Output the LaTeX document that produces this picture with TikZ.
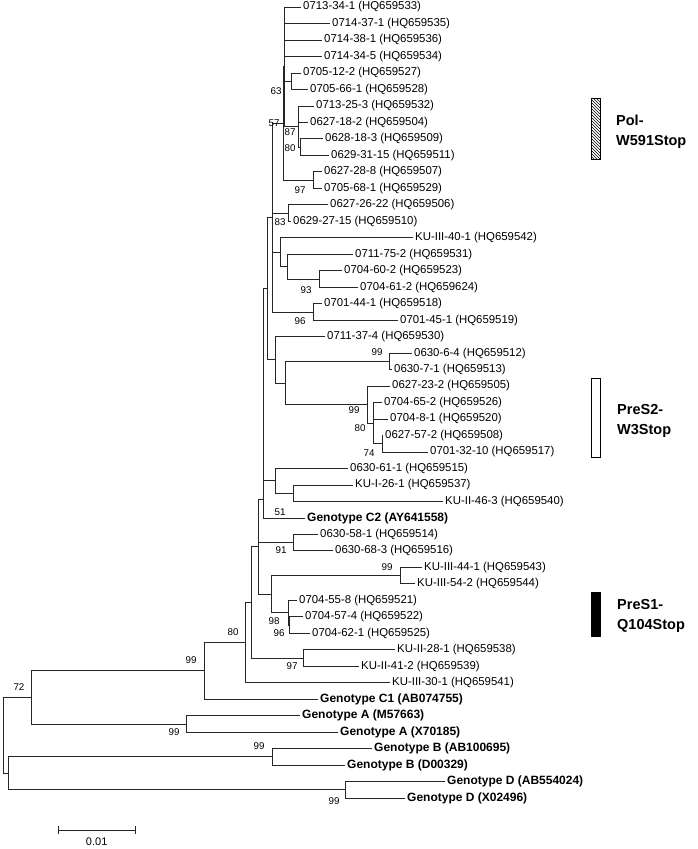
\documentclass[tikz,border=0pt]{standalone}
\usepackage{fontspec}
\setmainfont{Liberation Sans}
\usetikzlibrary{patterns}
\begin{document}
\begin{tikzpicture}[x=1pt,y=-1pt,
  edge/.style={draw=black!85, line width=0.8pt},
  leaf/.style={anchor=west, inner sep=2pt, font=\fontsize{11.4}{13}\selectfont},
  gleaf/.style={leaf, font=\bfseries\fontsize{12}{13}\selectfont},
  boot/.style={inner sep=0pt, font=\fontsize{9.8}{11}\selectfont},
  tag/.style={anchor=west, align=left, inner sep=0pt, font=\bfseries\fontsize{14.5}{20}\selectfont},
  bar/.style={draw=black, line width=0.8pt, minimum width=9pt, inner sep=0pt}]
\useasboundingbox (0,0) rectangle (697,849);
% leaves
\node[leaf] (l1) at (301,7.0) {0713-34-1 (HQ659533)};
\node[leaf] (l2) at (330,23.5) {0714-37-1 (HQ659535)};
\node[leaf] (l3) at (322,40.0) {0714-38-1 (HQ659536)};
\node[leaf] (l4) at (322,56.4) {0714-34-5 (HQ659534)};
\node[leaf] (l5) at (301,72.9) {0705-12-2 (HQ659527)};
\node[leaf] (l6) at (308,89.4) {0705-66-1 (HQ659528)};
\node[leaf] (l7) at (314,105.9) {0713-25-3 (HQ659532)};
\node[leaf] (l8) at (308,122.4) {0627-18-2 (HQ659504)};
\node[leaf] (l9) at (323,138.8) {0628-18-3 (HQ659509)};
\node[leaf] (l10) at (329,155.3) {0629-31-15 (HQ659511)};
\node[leaf] (l11) at (322,171.8) {0627-28-8 (HQ659507)};
\node[leaf] (l12) at (322,188.3) {0705-68-1 (HQ659529)};
\node[leaf] (l13) at (328,204.8) {0627-26-22 (HQ659506)};
\node[leaf] (l14) at (291,221.2) {0629-27-15 (HQ659510)};
\node[leaf] (l15) at (413,237.7) {KU-III-40-1 (HQ659542)};
\node[leaf] (l16) at (353,254.2) {0711-75-2 (HQ659531)};
\node[leaf] (l17) at (342,270.7) {0704-60-2 (HQ659523)};
\node[leaf] (l18) at (358,287.2) {0704-61-2 (HQ659624)};
\node[leaf] (l19) at (322,303.6) {0701-44-1 (HQ659518)};
\node[leaf] (l20) at (398,320.1) {0701-45-1 (HQ659519)};
\node[leaf] (l21) at (325,336.6) {0711-37-4 (HQ659530)};
\node[leaf] (l22) at (412,353.1) {0630-6-4 (HQ659512)};
\node[leaf] (l23) at (392,369.6) {0630-7-1 (HQ659513)};
\node[leaf] (l24) at (390,386.0) {0627-23-2 (HQ659505)};
\node[leaf] (l25) at (382,402.5) {0704-65-2 (HQ659526)};
\node[leaf] (l26) at (388,419.0) {0704-8-1 (HQ659520)};
\node[leaf] (l27) at (383,435.5) {0627-57-2 (HQ659508)};
\node[leaf] (l28) at (428,452.0) {0701-32-10 (HQ659517)};
\node[leaf] (l29) at (348,468.4) {0630-61-1 (HQ659515)};
\node[leaf] (l30) at (353,484.9) {KU-I-26-1 (HQ659537)};
\node[leaf] (l31) at (443,501.4) {KU-II-46-3 (HQ659540)};
\node[gleaf] (l32) at (305,517.9) {Genotype C2 (AY641558)};
\node[leaf] (l33) at (318,534.4) {0630-58-1 (HQ659514)};
\node[leaf] (l34) at (333,550.8) {0630-68-3 (HQ659516)};
\node[leaf] (l35) at (422,567.3) {KU-III-44-1 (HQ659543)};
\node[leaf] (l36) at (415,583.8) {KU-III-54-2 (HQ659544)};
\node[leaf] (l37) at (297,600.3) {0704-55-8 (HQ659521)};
\node[leaf] (l38) at (303,616.8) {0704-57-4 (HQ659522)};
\node[leaf] (l39) at (310,633.2) {0704-62-1 (HQ659525)};
\node[leaf] (l40) at (395,649.7) {KU-II-28-1 (HQ659538)};
\node[leaf] (l41) at (359,666.2) {KU-II-41-2 (HQ659539)};
\node[leaf] (l42) at (390,682.7) {KU-III-30-1 (HQ659541)};
\node[gleaf] (l43) at (318,699.2) {Genotype C1 (AB074755)};
\node[gleaf] (l44) at (300,715.6) {Genotype A (M57663)};
\node[gleaf] (l45) at (338,732.1) {Genotype A (X70185)};
\node[gleaf] (l46) at (372,748.6) {Genotype B (AB100695)};
\node[gleaf] (l47) at (345,765.1) {Genotype B (D00329)};
\node[gleaf] (l48) at (445,781.6) {Genotype D (AB554024)};
\node[gleaf] (l49) at (405,798.0) {Genotype D (X02496)};
% internal nodes
\coordinate (n63) at (291.7,81.2);
\coordinate (n80c) at (300,147.1);
\coordinate (n87) at (298,126.5);
\coordinate (a1) at (284,66.8);
\coordinate (n97a) at (313,180.0);
\coordinate (n57) at (283,123.4);
\coordinate (n83) at (288,213.0);
\coordinate (n93) at (319,279.0);
\coordinate (bb) at (287,266.6);
\coordinate (aa) at (280,252.0);
\coordinate (n96a) at (313,311.9);
\coordinate (z) at (272,217.6);
\coordinate (n99c) at (389,361.3);
\coordinate (n74) at (382,443.7);
\coordinate (n80b) at (373,423.1);
\coordinate (n99d) at (367,404.6);
\coordinate (r) at (285,383.0);
\coordinate (s) at (275,359.8);
\coordinate (t) at (267,288.7);
\coordinate (n51) at (293,493.1);
\coordinate (x51) at (275,480.8);
\coordinate (w) at (263,499.0);
\coordinate (n91) at (293,542.6);
\coordinate (n99b) at (400,575.5);
\coordinate (n96) at (289.5,625.0);
\coordinate (n98) at (288,612.6);
\coordinate (p) at (271.7,594.0);
\coordinate (q) at (258.3,546.0);
\coordinate (n97) at (303,658.0);
\coordinate (v) at (251.7,602.0);
\coordinate (n80) at (245,642.3);
\coordinate (n99C) at (204,670.7);
\coordinate (nA) at (186.7,723.9);
\coordinate (n72) at (31.7,697.3);
\coordinate (nB) at (272,756.8);
\coordinate (nD) at (345,789.8);
\coordinate (nBD) at (8.3,773.3);
\coordinate (root) at (3.3,735.3);
% edges
\draw[edge] (n63) |- (l5.west) (n63) |- (l6.west);
\draw[edge] (n80c) |- (l9.west) (n80c) |- (l10.west);
\draw[edge] (n87) |- (l7.west) (n87) |- (l8.west) (n87) |- (n80c);
\draw[edge] (a1) |- (l1.west) (a1) |- (l2.west) (a1) |- (l3.west) (a1) |- (l4.west) (a1) |- (n63) (a1) |- (n87);
\draw[edge] (n97a) |- (l11.west) (n97a) |- (l12.west);
\draw[edge] (n57) |- (a1) (n57) |- (n97a);
\draw[edge] (n83) |- (l13.west) (n83) |- (l14.west);
\draw[edge] (n93) |- (l17.west) (n93) |- (l18.west);
\draw[edge] (bb) |- (l16.west) (bb) |- (n93);
\draw[edge] (aa) |- (l15.west) (aa) |- (bb);
\draw[edge] (n96a) |- (l19.west) (n96a) |- (l20.west);
\draw[edge] (z) |- (n57) (z) |- (n83) (z) |- (aa) (z) |- (n96a);
\draw[edge] (n99c) |- (l22.west) (n99c) |- (l23.west);
\draw[edge] (n74) |- (l27.west) (n74) |- (l28.west);
\draw[edge] (n80b) |- (l25.west) (n80b) |- (l26.west) (n80b) |- (n74);
\draw[edge] (n99d) |- (l24.west) (n99d) |- (n80b);
\draw[edge] (r) |- (n99c) (r) |- (n99d);
\draw[edge] (s) |- (l21.west) (s) |- (r);
\draw[edge] (t) |- (z) (t) |- (s);
\draw[edge] (n51) |- (l30.west) (n51) |- (l31.west);
\draw[edge] (x51) |- (l29.west) (x51) |- (n51);
\draw[edge] (w) |- (t) (w) |- (x51) (w) |- (l32.west);
\draw[edge] (n91) |- (l33.west) (n91) |- (l34.west);
\draw[edge] (n99b) |- (l35.west) (n99b) |- (l36.west);
\draw[edge] (n96) |- (l38.west) (n96) |- (l39.west);
\draw[edge] (n98) |- (l37.west) (n98) |- (n96);
\draw[edge] (p) |- (n99b) (p) |- (n98);
\draw[edge] (q) |- (w) (q) |- (n91) (q) |- (p);
\draw[edge] (n97) |- (l40.west) (n97) |- (l41.west);
\draw[edge] (v) |- (q) (v) |- (n97);
\draw[edge] (n80) |- (v) (n80) |- (l42.west);
\draw[edge] (n99C) |- (n80) (n99C) |- (l43.west);
\draw[edge] (nA) |- (l44.west) (nA) |- (l45.west);
\draw[edge] (n72) |- (n99C) (n72) |- (nA);
\draw[edge] (nB) |- (l46.west) (nB) |- (l47.west);
\draw[edge] (nD) |- (l48.west) (nD) |- (l49.west);
\draw[edge] (nBD) |- (nB) (nBD) |- (nD);
\draw[edge] (root) |- (n72) (root) |- (nBD);
% bootstrap values
\node[boot] (b1) at (276,91) {63};
\node[boot] (b2) at (274,123) {57};
\node[boot] (b3) at (290,132) {87};
\node[boot] (b4) at (290,148) {80};
\node[boot] (b5) at (300,190) {97};
\node[boot] (b6) at (280,222) {83};
\node[boot] (b7) at (306,290) {93};
\node[boot] (b8) at (300,321) {96};
\node[boot] (b9) at (377,352) {99};
\node[boot] (b10) at (354,410) {99};
\node[boot] (b11) at (360,428) {80};
\node[boot] (b12) at (369,453) {74};
\node[boot] (b13) at (280,512) {51};
\node[boot] (b14) at (281,550) {91};
\node[boot] (b15) at (387,567) {99};
\node[boot] (b16) at (274,621) {98};
\node[boot] (b17) at (279,633) {96};
\node[boot] (b18) at (292,666) {97};
\node[boot] (b19) at (233,632) {80};
\node[boot] (b20) at (191,660) {99};
\node[boot] (b21) at (19,687) {72};
\node[boot] (b22) at (174,732) {99};
\node[boot] (b23) at (259,746) {99};
\node[boot] (b24) at (334,801) {99};
% marker bars
\node[bar, pattern=north west lines, minimum height=61pt] (pol) at (596.2,128.5) {};
\node[tag] (polt) at (616,132) {Pol-\\W591Stop};
\node[bar, fill=white, minimum height=79pt] (pre2) at (596,417.5) {};
\node[tag] (pre2t) at (617,421) {PreS2-\\W3Stop};
\node[bar, fill=black, minimum height=44pt] (pre1) at (596.2,614) {};
\node[tag] (pre1t) at (617,616) {PreS1-\\Q104Stop};
% scale bar
\coordinate (s1) at (58.3,830);
\coordinate (s2) at (135,830);
\draw[edge] (s1) -- (s2);
\draw[edge] ([yshift=-4pt]s1) -- ([yshift=4pt]s1);
\draw[edge] ([yshift=-4pt]s2) -- ([yshift=4pt]s2);
\node[font=\fontsize{11}{13}\selectfont, inner sep=0pt] (sl) at (96.7,842) {0.01};
\end{tikzpicture}
\end{document}
